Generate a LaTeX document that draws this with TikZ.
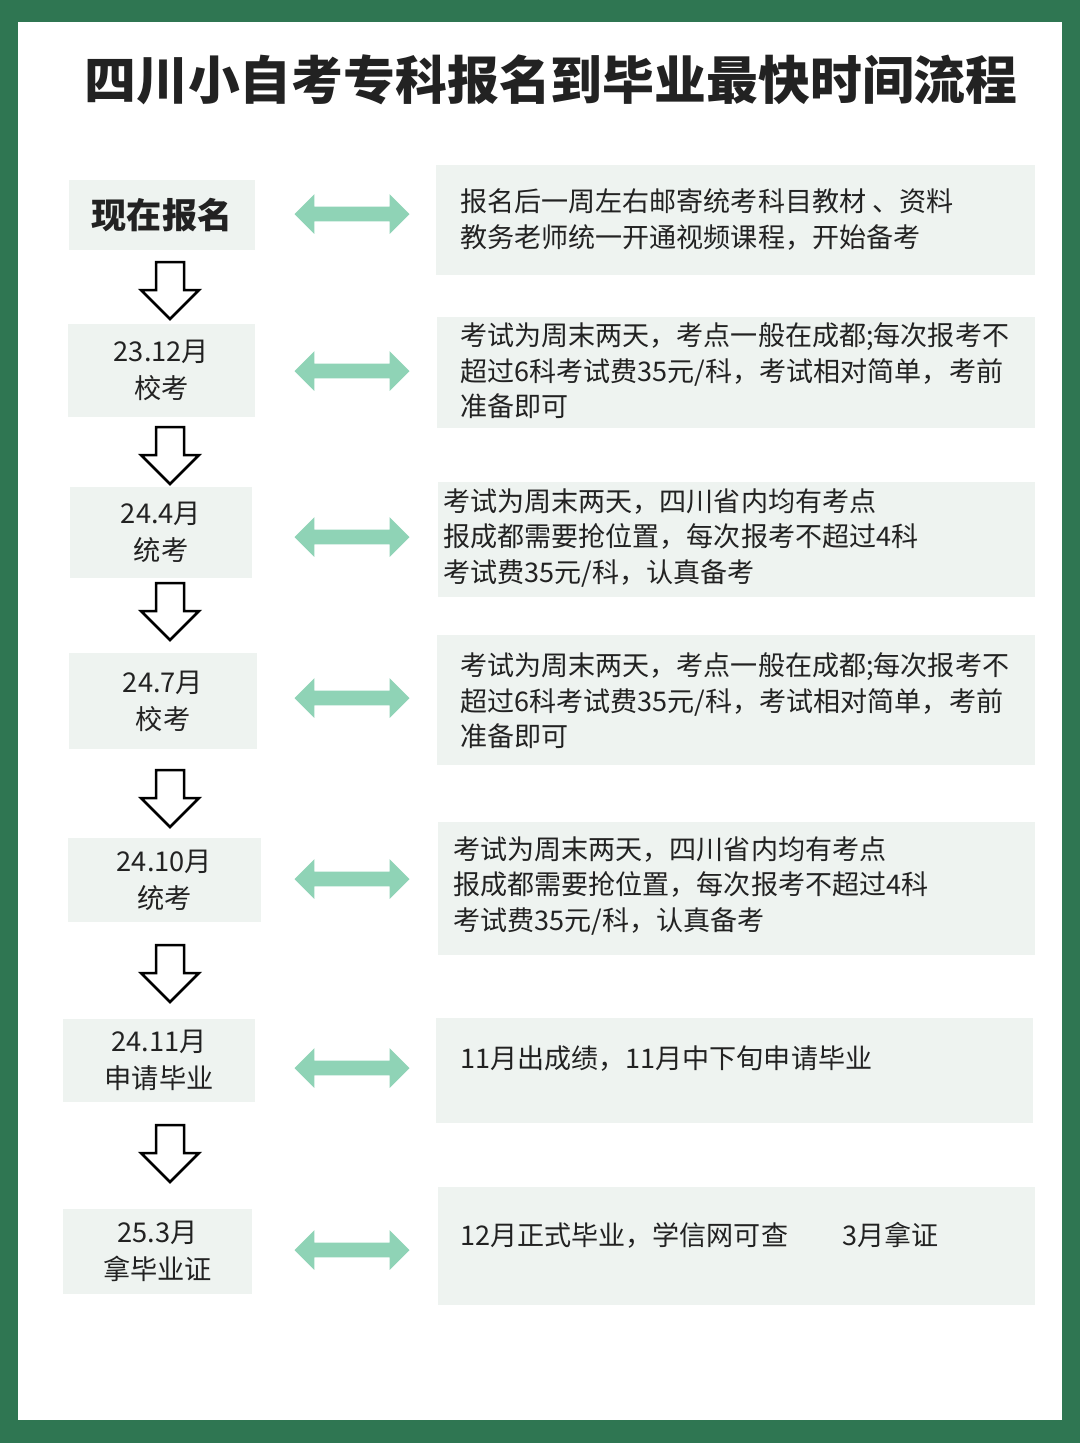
\documentclass[tikz,border=0pt]{standalone}
\usepackage{fontspec}
\setmainfont{Noto Sans CJK SC}
\usetikzlibrary{shapes.arrows}
\definecolor{frame}{HTML}{2F7652}
\definecolor{boxfill}{HTML}{EEF3F0}
\definecolor{mint}{HTML}{8FD3B6}
\definecolor{ink}{HTML}{222222}
\tikzset{
  stage/.style={fill=boxfill,inner sep=0pt,align=center,text=ink,font=\fontsize{15.5pt}{21pt}\selectfont},
  note/.style={fill=boxfill,inner sep=0pt},
  notetext/.style={anchor=north west,align=left,inner sep=0pt,text=ink,font=\fontsize{15.4pt}{20.4pt}\selectfont},
  linkarrow/.style={double arrow,fill=mint,inner xsep=0pt,inner ysep=1.4mm,minimum height=23mm,minimum width=7.6mm},
  downarrow/.style={draw=black,line width=0.5mm,fill=white,line join=miter}
}
\begin{document}
\begin{tikzpicture}[x=0.2mm,y=-0.2mm]
\fill[frame] (0,0) rectangle (1080,1443);
\fill[white] (18,22) rectangle (1062,1420);
\useasboundingbox (0,0) rectangle (1080,1443);
\node (title) at (551,80) {\fontsize{29.5pt}{32pt}\selectfont\bfseries\color{ink}四川小自考专科报名到毕业最快时间流程};
% stages on the left
\path[stage] (69,180) rectangle (255,250) node (l1) [midway] {\fontsize{20pt}{24pt}\selectfont\bfseries 现在报名};
\path[stage] (68,324) rectangle (255,417) node (l2) [midway] {23.12月\\校考};
\path[stage] (70,487) rectangle (252,578) node (l3) [midway] {24.4月\\统考};
\path[stage] (69,653) rectangle (257,749) node (l4) [midway] {24.7月\\校考};
\path[stage] (68,838) rectangle (261,922) node (l5) [midway] {24.10月\\统考};
\path[stage] (63,1019) rectangle (255,1102) node (l6) [midway] {24.11月\\申请毕业};
\path[stage] (63,1209) rectangle (252,1294) node (l7) [midway] {25.3月\\拿毕业证};
% notes on the right
\fill[note] (436,165) rectangle (1035,275);
\fill[note] (437,317) rectangle (1035,428);
\fill[note] (438,482) rectangle (1035,597);
\fill[note] (437,635) rectangle (1035,765);
\fill[note] (438,822) rectangle (1035,955);
\fill[note] (436,1018) rectangle (1033,1123);
\fill[note] (438,1187) rectangle (1035,1305);
\node[notetext] (r1) at (460,188) {报名后一周左右邮寄统考科目教材 、资料\\教务老师统一开通视频课程，开始备考};
\node[notetext] (r2) at (460,322) {考试为周末两天，考点一般在成都;每次报考不\\超过6科考试费35元/科，考试相对简单，考前\\准备即可};
\node[notetext] (r3) at (443,488) {考试为周末两天，四川省内均有考点\\报成都需要抢位置，每次报考不超过4科\\考试费35元/科，认真备考};
\node[notetext] (r4) at (460,652) {考试为周末两天，考点一般在成都;每次报考不\\超过6科考试费35元/科，考试相对简单，考前\\准备即可};
\node[notetext] (r5) at (453,836) {考试为周末两天，四川省内均有考点\\报成都需要抢位置，每次报考不超过4科\\考试费35元/科，认真备考};
\node[notetext] (r6) at (460,1045) {11月出成绩，11月中下旬申请毕业};
\node[notetext] (r7) at (460,1222) {12月正式毕业，学信网可查\quad\quad 3月拿证};
% arrows
\foreach \y [count=\i] in {214,371,537,698,879,1068,1250}
  \node[linkarrow] (ar\i) at (352,\y) {};
\foreach \y [count=\i] in {262,427,583,770,945,1125} {
  \coordinate (da\i) at (170,\y);
  \draw[downarrow] (da\i) ++(-14,0) -- ++(28,0) -- ++(0,28) -- ++(15,0)
    -- ++(-29,29) -- ++(-29,-29) -- ++(15,0) -- cycle;
}
\end{tikzpicture}
\end{document}
